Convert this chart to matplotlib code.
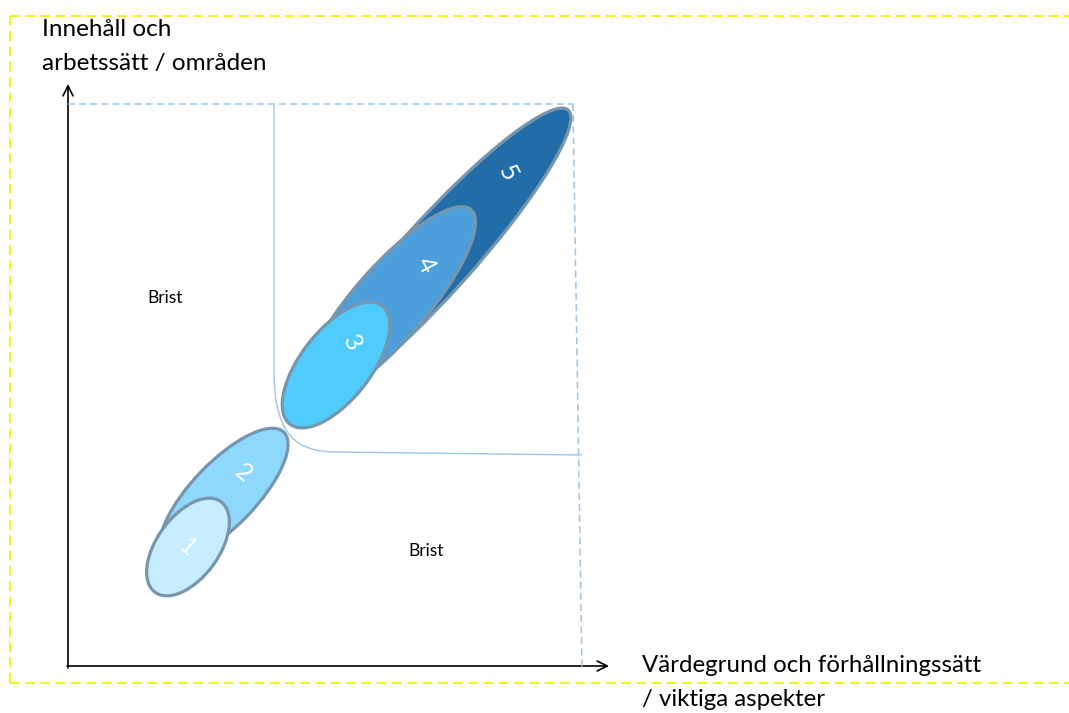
import matplotlib
matplotlib.use("Agg")
import matplotlib.pyplot as plt
from matplotlib.patches import Ellipse, FancyArrowPatch, PathPatch
from matplotlib.path import Path

plt.rcParams['font.family'] = ['Lato', 'DejaVu Sans']
plt.rcParams['lines.scale_dashes'] = False

# ellipse levels (pixel space of the slide, y down)
levels = ['1', '2', '3', '4', '5']
ell_x = [188, 224, 336, 389, 435]
ell_y = [547, 494, 365, 304, 258]
ell_w = [112, 172, 150, 250, 398]
ell_h = [62, 64, 70, 73, 73]
ell_ang = [54, 46, 52, 49, 48]
ell_fill = ['#C6ECFD', '#8DD8FC', '#50CBFE', '#4D9FDB', '#226DA8']
ell_z = [6, 5, 4, 3, 2]
num_x = [187, 243, 352, 426, 508]
num_y = [547, 473, 343, 265, 173]
num_rot = [-42, -40, -62, -62, -62]

y_label = 'Innehåll och\narbetssätt / områden'
x_label = 'Värdegrund och förhållningssätt\n/ viktiga aspekter'
zone_text = ['Brist', 'Brist']
zone_x = [147, 408]
zone_y = [298, 551]

fig = plt.figure(figsize=(10.69, 7.13), dpi=100)
ax = fig.add_axes([0, 0, 1, 1])
ax.set_xlim(0, 1069)
ax.set_ylim(713, 0)
ax.axis('off')

# yellow dashed frame
yel = dict(color='#F2F200', lw=1.3, dashes=(7, 4))
ax.plot([10, 1069], [16, 16], **yel)
ax.plot([10, 10], [16, 683], **yel)
ax.plot([10, 1069], [683, 683], **yel)

# light blue dashed box
blu = dict(color='#9DC3E6', lw=1.1, dashes=(5, 3))
ax.plot([68, 573], [104, 104], **blu)
ax.plot([573, 582], [104, 668], **blu)

# rounded boundary line
verts = [(274, 104), (274, 370), (274, 440), (300, 451), (335, 452), (582, 455)]
codes = [Path.MOVETO, Path.LINETO, Path.CURVE4, Path.CURVE4, Path.CURVE4, Path.LINETO]
ax.add_patch(PathPatch(Path(verts, codes), fill=False, edgecolor='#9DC3E6', lw=1.0, zorder=1))

# axes arrows
ax.add_patch(FancyArrowPatch((68, 668), (68, 84), arrowstyle='->', mutation_scale=18,
                             color='black', lw=1.2, shrinkA=0, shrinkB=0))
ax.add_patch(FancyArrowPatch((67, 666), (609, 666), arrowstyle='->', mutation_scale=18,
                             color='black', lw=1.2, shrinkA=0, shrinkB=0))

for i in range(len(levels)):
    e = Ellipse((ell_x[i], ell_y[i]), ell_w[i], ell_h[i], angle=-ell_ang[i],
                facecolor=ell_fill[i], edgecolor='#7696AE', lw=2.3, zorder=ell_z[i])
    ax.add_patch(e)
    ax.text(num_x[i], num_y[i], levels[i], color='white', fontsize=18,
            rotation=num_rot[i], rotation_mode='anchor',
            ha='center', va='center', zorder=10)

ax.text(42, 19, y_label, fontsize=17.5, ha='left', va='top', linespacing=1.75)
ax.text(642, 655, x_label, fontsize=17.3, ha='left', va='top', linespacing=1.75)
for t, x, y in zip(zone_text, zone_x, zone_y):
    ax.text(x, y, t, fontsize=12.5, ha='left', va='center')

fig.savefig('out.png', dpi=100)
